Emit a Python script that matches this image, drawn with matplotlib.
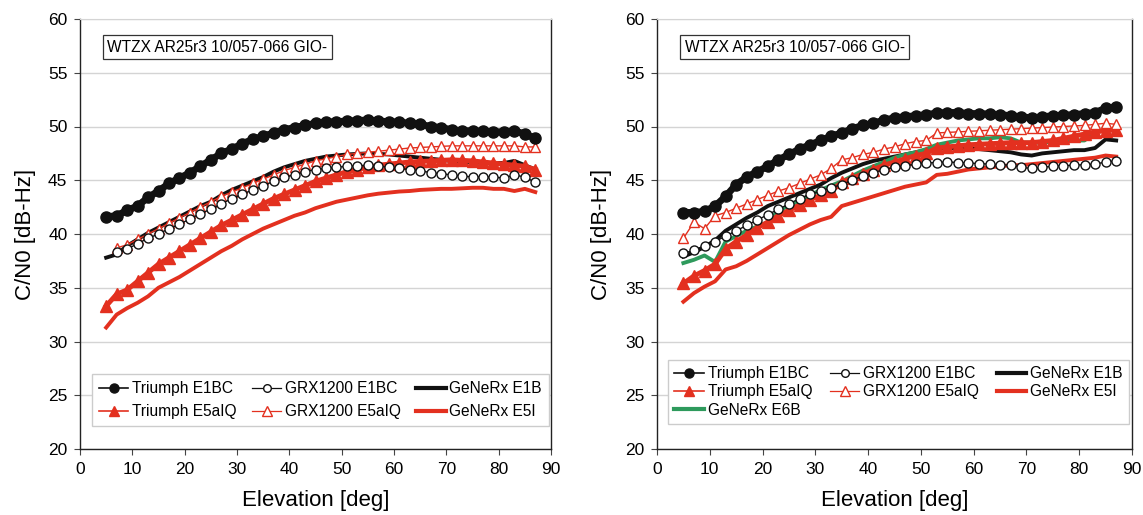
import numpy as np
import matplotlib
matplotlib.use("Agg")
import matplotlib.pyplot as plt
from matplotlib.lines import Line2D

plt.rcParams['font.family'] = ['Liberation Sans', 'DejaVu Sans']

elev = [5, 7, 9, 11, 13, 15, 17, 19, 21, 23, 25, 27, 29, 31, 33, 35, 37, 39, 41, 43, 45,
        47, 49, 51, 53, 55, 57, 59, 61, 63, 65, 67, 69, 71, 73, 75, 77, 79, 81, 83, 85, 87]
nan = np.nan

# ---- left panel ----
L_tri_e1 = [41.6, 41.7, 42.2, 42.6, 43.4, 44.0, 44.7, 45.2, 45.7, 46.3, 46.9, 47.5, 47.9, 48.4,
            48.8, 49.1, 49.4, 49.7, 49.9, 50.1, 50.3, 50.4, 50.45, 50.5, 50.55, 50.6, 50.5, 50.45,
            50.4, 50.3, 50.2, 50.0, 49.9, 49.7, 49.6, 49.6, 49.55, 49.5, 49.5, 49.6, 49.3, 48.9]
L_grx_e1 = [nan, 38.3, 38.6, 39.1, 39.6, 40.0, 40.5, 40.9, 41.4, 41.9, 42.3, 42.8, 43.3, 43.7,
            44.1, 44.5, 44.9, 45.3, 45.5, 45.8, 46.0, 46.1, 46.2, 46.3, 46.35, 46.4, 46.3, 46.2,
            46.1, 46.0, 45.9, 45.7, 45.6, 45.5, 45.4, 45.3, 45.3, 45.3, 45.2, 45.5, 45.3, 44.8]
L_gen_e1 = [37.8, 38.1, 38.9, 39.5, 40.1, 40.6, 41.1, 41.6, 42.1, 42.6, 43.0, 43.6, 44.1, 44.5,
            44.9, 45.3, 45.8, 46.2, 46.5, 46.8, 47.0, 47.2, 47.3, 47.4, 47.45, 47.5, 47.45, 47.4,
            47.3, 47.2, 47.1, 47.0, 46.9, 46.8, 46.7, 46.7, 46.6, 46.6, 46.6, 46.8, 46.4, 46.0]
L_tri_e5 = [33.3, 34.4, 34.8, 35.6, 36.4, 37.2, 37.8, 38.4, 39.0, 39.6, 40.2, 40.8, 41.3, 41.8,
            42.3, 42.8, 43.3, 43.7, 44.1, 44.5, 44.9, 45.2, 45.5, 45.8, 46.0, 46.2, 46.4, 46.5,
            46.6, 46.7, 46.75, 46.8, 46.85, 46.9, 46.85, 46.8, 46.7, 46.6, 46.5, 46.4, 46.3, 46.0]
L_grx_e5 = [nan, 38.7, 39.0, 39.5, 40.0, 40.5, 41.0, 41.5, 42.0, 42.5, 43.0, 43.5, 43.9, 44.3,
            44.7, 45.1, 45.5, 45.9, 46.2, 46.5, 46.8, 47.0, 47.2, 47.4, 47.5, 47.6, 47.7, 47.8,
            47.9, 48.0, 48.05, 48.1, 48.15, 48.2, 48.2, 48.2, 48.2, 48.2, 48.2, 48.2, 48.1, 48.1]
L_gen_e5 = [31.3, 32.5, 33.1, 33.6, 34.2, 35.0, 35.5, 36.0, 36.6, 37.2, 37.8, 38.4, 38.9, 39.5,
            40.0, 40.5, 40.9, 41.3, 41.7, 42.0, 42.4, 42.7, 43.0, 43.2, 43.4, 43.6, 43.75, 43.85,
            43.95, 44.0, 44.1, 44.15, 44.2, 44.2, 44.25, 44.3, 44.3, 44.2, 44.2, 44.0, 44.2, 43.9]

# ---- right panel ----
R_tri_e1 = [42.0, 42.0, 42.1, 42.6, 43.5, 44.6, 45.3, 45.8, 46.3, 46.9, 47.4, 47.9, 48.3, 48.7,
            49.1, 49.4, 49.8, 50.1, 50.3, 50.6, 50.8, 50.9, 51.0, 51.1, 51.25, 51.3, 51.3, 51.2,
            51.2, 51.15, 51.1, 51.0, 50.9, 50.8, 50.9, 51.0, 51.05, 51.1, 51.2, 51.3, 51.7, 51.8]
R_grx_e1 = [38.2, 38.5, 38.9, 39.3, 39.8, 40.3, 40.8, 41.3, 41.8, 42.3, 42.8, 43.3, 43.7, 44.0,
            44.3, 44.6, 45.0, 45.4, 45.7, 46.0, 46.2, 46.35, 46.5, 46.6, 46.65, 46.7, 46.65, 46.6,
            46.55, 46.5, 46.45, 46.4, 46.2, 46.1, 46.2, 46.3, 46.35, 46.4, 46.45, 46.5, 46.7, 46.8]
R_gen_e1 = [37.9, 38.3, 38.8, 39.4, 40.3, 40.9, 41.5, 42.0, 42.6, 43.0, 43.4, 43.8, 44.2, 44.6,
            45.2, 45.7, 46.1, 46.5, 46.8, 47.0, 47.2, 47.4, 47.6, 47.8, 47.9, 48.0, 48.0, 48.0,
            47.9, 47.8, 47.7, 47.6, 47.4, 47.3, 47.5, 47.6, 47.7, 47.8, 47.8, 48.0, 48.8, 48.7]
R_tri_e5 = [35.4, 36.1, 36.6, 37.2, 38.6, 39.3, 39.9, 40.6, 41.1, 41.7, 42.2, 42.7, 43.2, 43.6,
            44.0, 44.8, 45.2, 45.6, 46.0, 46.4, 46.7, 47.0, 47.3, 47.5, 48.0, 48.1, 48.2, 48.3,
            48.35, 48.4, 48.45, 48.5, 48.5, 48.5, 48.6, 48.7, 48.9, 49.1, 49.3, 49.5, 49.6, 49.7]
R_grx_e5 = [39.6, 41.1, 40.5, 41.7, 42.0, 42.4, 42.8, 43.2, 43.6, 44.0, 44.3, 44.7, 45.1, 45.5,
            46.1, 46.9, 47.1, 47.4, 47.6, 47.9, 48.1, 48.4, 48.6, 48.7, 49.4, 49.45, 49.5, 49.55,
            49.6, 49.65, 49.7, 49.75, 49.8, 49.85, 49.9, 49.95, 50.0, 50.05, 50.1, 50.2, 50.3, 50.2]
R_gen_e5 = [33.7, 34.5, 35.1, 35.6, 36.7, 37.0, 37.5, 38.1, 38.7, 39.3, 39.9, 40.4, 40.9, 41.3,
            41.6, 42.6, 42.9, 43.2, 43.5, 43.8, 44.1, 44.4, 44.6, 44.8, 45.5, 45.6, 45.8, 46.0,
            46.1, 46.2, 46.3, 46.4, 46.4, 46.5, 46.6, 46.7, 46.8, 46.9, 47.0, 47.1, 47.3, 47.2]
R_gen_e6 = [37.3, 37.6, 38.0, 37.4, 39.3, 39.8, 40.3, 40.7, 41.1, 42.2, 42.6, 43.1, 43.6, 44.1,
            44.5, 44.9, 45.4, 45.9, 46.3, 46.7, 47.1, 47.4, 47.6, 47.9, 48.3, 48.5, 48.7, 48.8,
            48.9, 48.9, 49.0, 48.9, 48.5, 48.5, 48.5, 48.6, 48.6, 48.7, 48.7, 49.5, 49.7, nan]

panel_label = "WTZX AR25r3 10/057-066 GIO-"
xticks = [0, 10, 20, 30, 40, 50, 60, 70, 80, 90]
yticks = [20, 25, 30, 35, 40, 45, 50, 55, 60]

RED = '#e3301f'
GREEN = '#2e9a5c'
BLACK = '#111111'

W, H = 1143, 515
fig = plt.figure(figsize=(W / 100, H / 100), dpi=100)
axL = fig.add_axes([80 / W, 1 - 449 / H, 471 / W, 430 / H])
axR = fig.add_axes([657 / W, 1 - 449 / H, 475 / W, 430 / H])


def style(ax):
    ax.set_xlim(0, 90)
    ax.set_ylim(20, 60)
    ax.set_xticks(xticks)
    ax.set_yticks(yticks)
    ax.tick_params(labelsize=12.5, direction='out', length=4, width=0.8, color='#444444', pad=5)
    ax.grid(axis='y', color='#d4d4d4', lw=1.0)
    ax.set_axisbelow(True)
    for s in ['left', 'bottom', 'right']:
        ax.spines[s].set_color('#222222')
        ax.spines[s].set_linewidth(1.0)
    ax.spines['top'].set_color('#d4d4d4')
    ax.set_xlabel('Elevation [deg]', fontsize=16, labelpad=10)
    ax.set_ylabel('C/N0 [dB-Hz]', fontsize=16, labelpad=9)
    ax.text(0.058, 0.952, panel_label, transform=ax.transAxes, fontsize=11.2,
            va='top', ha='left',
            bbox=dict(boxstyle='square,pad=0.3', fc='white', ec='#333333', lw=0.9))


def plot_set(ax, tri1, grx1, gen1, tri5, grx5, gen5, gen6=None):
    ax.plot(elev, gen1, color=BLACK, lw=2.8, zorder=3)
    ax.plot(elev, gen5, color=RED, lw=2.8, zorder=3)
    if gen6 is not None:
        ax.plot(elev, gen6, color=GREEN, lw=2.8, zorder=3)
    ax.plot(elev, tri5, color=RED, lw=3.5, marker='^', ms=8.5, mfc=RED, mec=RED, zorder=4)
    ax.plot(elev, grx5, color=RED, lw=1.0, marker='^', ms=7, mfc='white', mec=RED, mew=1.0, zorder=4)
    ax.plot(elev, grx1, color=BLACK, lw=1.0, marker='o', ms=6.5, mfc='white', mec=BLACK, mew=1.0, zorder=4)
    ax.plot(elev, tri1, color=BLACK, lw=5, marker='o', ms=8, mfc=BLACK, mec=BLACK, zorder=5)


style(axL)
style(axR)
plot_set(axL, L_tri_e1, L_grx_e1, L_gen_e1, L_tri_e5, L_grx_e5, L_gen_e5)
plot_set(axR, R_tri_e1, R_grx_e1, R_gen_e1, R_tri_e5, R_grx_e5, R_gen_e5, R_gen_e6)


def lg(**kw):
    return Line2D([], [], **kw)

t1 = lg(color=BLACK, lw=1.2, marker='o', ms=6.5, mfc=BLACK, mec=BLACK)
t5 = lg(color=RED, lw=1.2, marker='^', ms=7, mfc=RED, mec=RED)
g1 = lg(color=BLACK, lw=0.9, marker='o', ms=5.5, mfc='white', mec=BLACK)
g5 = lg(color=RED, lw=0.9, marker='^', ms=6.5, mfc='white', mec=RED)
e1 = lg(color=BLACK, lw=3)
e5 = lg(color=RED, lw=3)
e6 = lg(color=GREEN, lw=3)

leg_kw = dict(fontsize=11.2, ncol=3, loc='lower left', mode='expand', frameon=True, fancybox=False,
              edgecolor='#cccccc', framealpha=1, handlelength=1.9, handletextpad=0.25,
              columnspacing=1.0, borderaxespad=0)

legL = axL.legend([t1, t5, g1, g5, e1, e5],
                  ['Triumph E1BC', 'Triumph E5aIQ', 'GRX1200 E1BC', 'GRX1200 E5aIQ', 'GeNeRx E1B', 'GeNeRx E5I'],
                  bbox_to_anchor=(0.025, 0.053, 0.971, 0.121), borderpad=0.45, labelspacing=0.5, **leg_kw)
legR = axR.legend([t1, t5, e6, g1, g5, e1, e5],
                  ['Triumph E1BC', 'Triumph E5aIQ', 'GeNeRx E6B', 'GRX1200 E1BC', 'GRX1200 E5aIQ', 'GeNeRx E1B', 'GeNeRx E5I'],
                  bbox_to_anchor=(0.023, 0.058, 0.971, 0.133), borderpad=0.4, labelspacing=0.22, **leg_kw)

fig.savefig('out.png', dpi=100, facecolor='white')
